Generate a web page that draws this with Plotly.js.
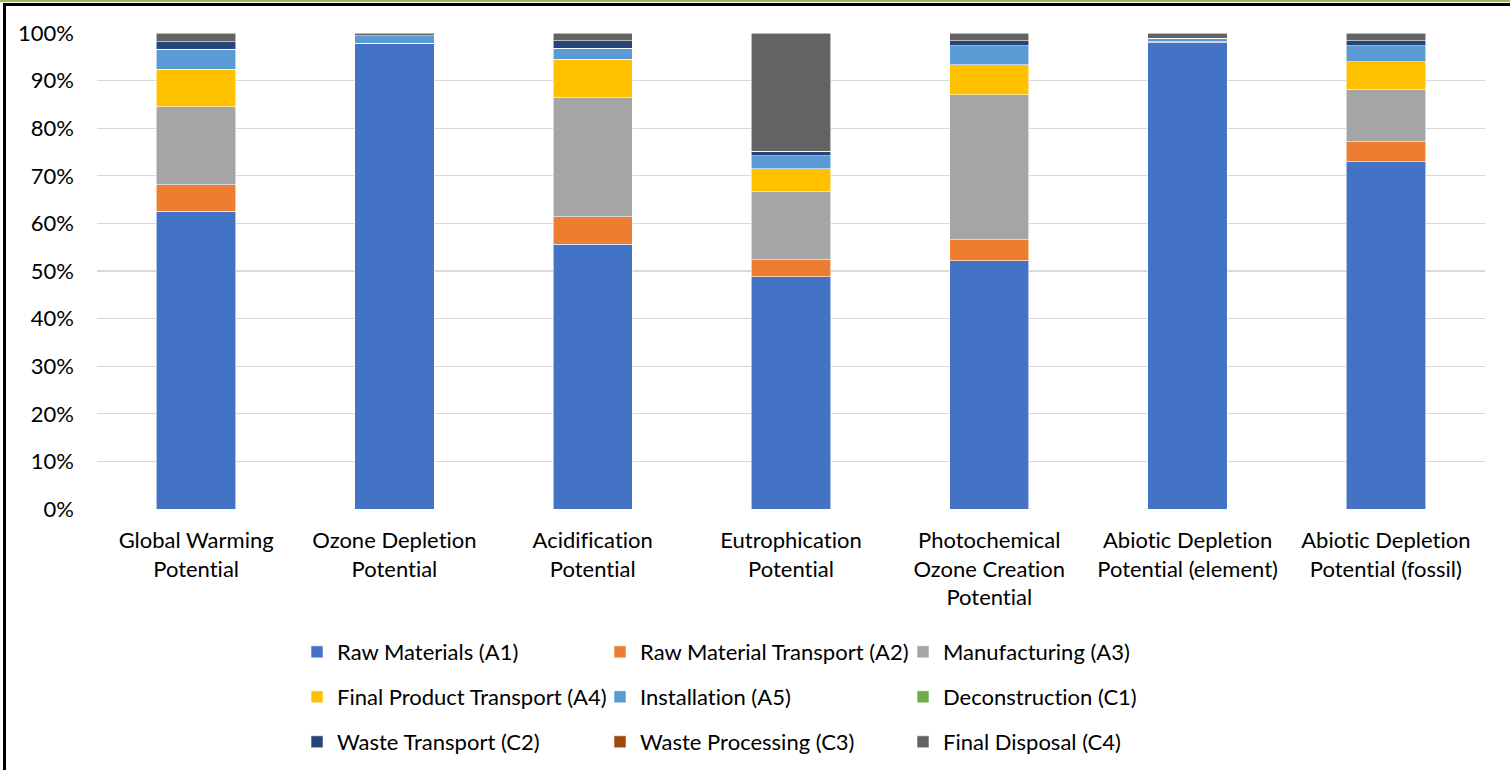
<!DOCTYPE html>
<html>
<head>
<meta charset="utf-8">
<script src="https://cdn.plot.ly/plotly-3.0.1.min.js"></script>
<style>
  html, body { margin: 0; padding: 0; background: #fff; }
  #wrap { position: relative; width: 1510px; height: 770px; overflow: hidden; }
  #chart { position: absolute; left: 0; top: 0; width: 1510px; height: 770px; }
  #chart svg text { font-variant-ligatures: none !important; font-feature-settings: "liga" 0, "clig" 0 !important; }
  .frame { position: absolute; }
</style>
</head>
<body>
<div id="wrap">
  <div id="chart"></div>
  <div class="frame" style="left:0;top:0;width:1510px;height:2px;background:#9BBB59;"></div>
  <div class="frame" style="left:3px;top:3px;width:1507px;height:2.5px;background:#000;"></div>
  <div class="frame" style="left:3px;top:3px;width:2.5px;height:767px;background:#000;"></div>
</div>
<script>
// Categories (impact indicators)
const categories = [
  "Global Warming<br>Potential",
  "Ozone Depletion<br>Potential",
  "Acidification<br>Potential",
  "Eutrophication<br>Potential",
  "Photochemical<br>Ozone Creation<br>Potential",
  "Abiotic Depletion<br>Potential (element)",
  "Abiotic Depletion<br>Potential (fossil)"
];

// Series values, percent share of each life-cycle stage
const rawMaterialsA1          = [62.6, 97.8, 55.6, 48.8, 52.2, 98.0, 73.0];
const rawMaterialTransportA2  = [5.5,  0.0,  5.8,  3.6,  4.4,  0.0,  4.2];
const manufacturingA3         = [16.4, 0.1,  25.0, 14.2, 30.4, 0.2,  10.9];
const finalProductTransportA4 = [7.9,  0.0,  8.1,  4.9,  6.3,  0.0,  5.9];
const installationA5          = [4.2,  1.5,  2.3,  2.7,  4.0,  0.7,  3.3];
const deconstructionC1        = [0.0,  0.0,  0.0,  0.0,  0.0,  0.0,  0.0];
const wasteTransportC2        = [1.6,  0.0,  1.6,  1.0,  1.1,  0.0,  1.1];
const wasteProcessingC3       = [0.0,  0.0,  0.0,  0.0,  0.0,  0.0,  0.0];
const finalDisposalC4         = [1.7,  0.6,  1.6,  24.8, 1.6,  1.1,  1.6];

const seriesNames = [
  "Raw Materials (A1)", "Raw Material Transport (A2)", "Manufacturing (A3)",
  "Final Product Transport (A4)", "Installation (A5)", "Deconstruction (C1)",
  "Waste Transport (C2)", "Waste Processing (C3)", "Final Disposal (C4)"
];
const seriesValues = [
  rawMaterialsA1, rawMaterialTransportA2, manufacturingA3,
  finalProductTransportA4, installationA5, deconstructionC1,
  wasteTransportC2, wasteProcessingC3, finalDisposalC4
];
const seriesColors = [
  "#4472C4", "#ED7D31", "#A5A5A5",
  "#FFC000", "#5B9BD5", "#70AD47",
  "#264478", "#9E480E", "#636363"
];

// Y-axis tick values and labels
const yTickVals = [0, 10, 20, 30, 40, 50, 60, 70, 80, 90, 100];
const yTickText = ["0%", "10%", "20%", "30%", "40%", "50%", "60%", "70%", "80%", "90%", "100%"];

const legendIds = ["legend", "legend2", "legend3"];

const traces = seriesNames.map((name, i) => ({
  type: "bar",
  name: name,
  x: categories,
  y: seriesValues[i],
  marker: { color: seriesColors[i], line: { color: "rgba(255,255,255,0.7)", width: 0.8 } },
  legend: legendIds[Math.floor(i / 3)],
  hoverinfo: "name+y"
}));

const FONT = "Lato, Carlito, Calibri, 'Liberation Sans', sans-serif";

function legendAt(y) {
  return {
    orientation: "h",
    xref: "container", yref: "container",
    x: 0.1967, xanchor: "left",
    y: y, yanchor: "middle",
    entrywidth: 258, entrywidthmode: "pixels",
    font: { family: FONT, size: 22, color: "#000" },
    bgcolor: "rgba(0,0,0,0)",
    borderwidth: 0,
    traceorder: "normal"
  };
}

const layout = {
  width: 1510, height: 770,
  margin: { l: 97, r: 25, t: 33, b: 261 },
  barmode: "stack",
  bargap: 0.6,
  paper_bgcolor: "#fff",
  plot_bgcolor: "#fff",
  font: { family: FONT, size: 22, color: "#000" },
  showlegend: true,
  legend: legendAt(0.1532),
  legend2: legendAt(0.0948),
  legend3: legendAt(0.0364),
  xaxis: {
    type: "category",
    automargin: false,
    tickfont: { family: FONT, size: 22, color: "#000" },
    showgrid: false,
    showline: false,
    zeroline: false,
    ticks: "",
    ticklabelstandoff: 16,
    fixedrange: true
  },
  yaxis: {
    automargin: false,
    range: [0, 100],
    tickmode: "array",
    tickvals: yTickVals,
    ticktext: yTickText,
    tickfont: { family: FONT, size: 22, color: "#000" },
    showgrid: true,
    gridcolor: "#D9D9D9",
    gridwidth: 1.3,
    zeroline: false,
    showline: false,
    ticks: "",
    ticklabelstandoff: 22,
    fixedrange: true
  }
};

Plotly.newPlot("chart", traces, layout, { displayModeBar: false, staticPlot: true });
</script>
</body>
</html>
